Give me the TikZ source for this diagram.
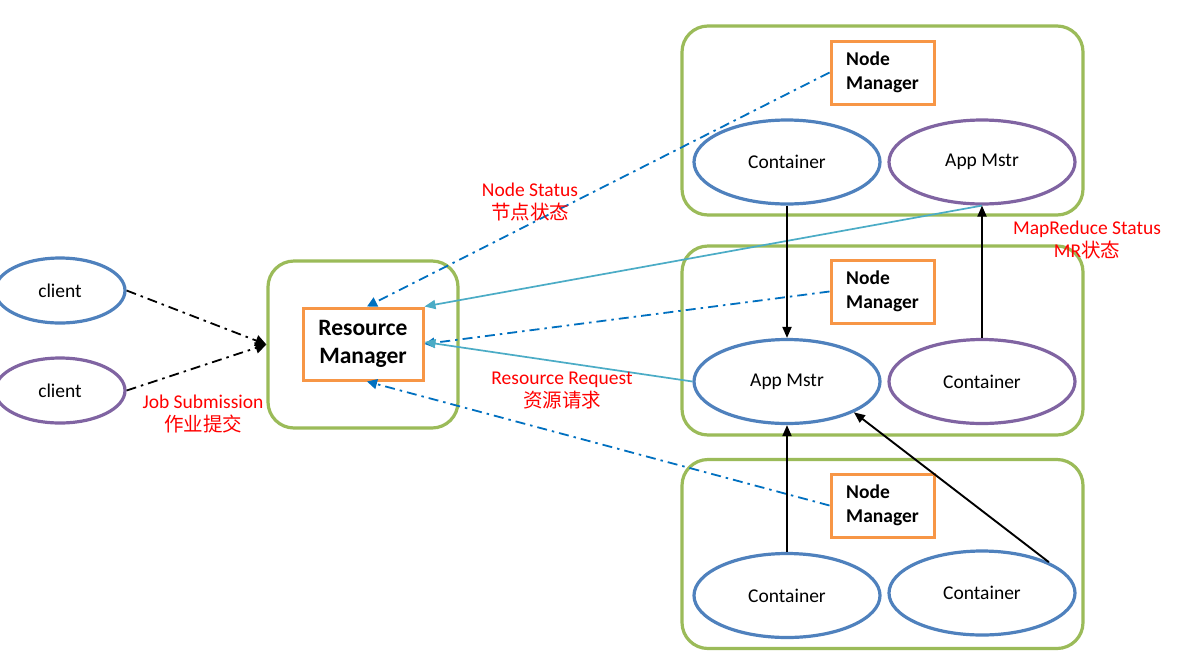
\documentclass[tikz,border=0pt]{standalone}
\usepackage{fontspec}
\setmainfont{Carlito}
\newfontfamily\cjk{Noto Sans CJK SC}
\usetikzlibrary{shapes.geometric,arrows.meta}
\definecolor{ellblue}{HTML}{4F81BD}
\definecolor{ellpurple}{HTML}{8064A2}
\definecolor{boxgreen}{HTML}{9BBB59}
\definecolor{boxorange}{HTML}{F79646}
\definecolor{dashblue}{HTML}{0070C0}
\definecolor{reqcyan}{HTML}{4BACC6}
\definecolor{lblred}{HTML}{FF0000}
\tikzset{
  pod/.style={draw=boxgreen,line width=3.2pt,rounded corners=26pt,minimum width=401pt,minimum height=189pt},
  rmbox/.style={draw=boxgreen,line width=3.2pt,rounded corners=26pt,minimum width=190pt,minimum height=167pt},
  mgr/.style={draw=boxorange,line width=3pt,fill=white,align=left,inner sep=0pt,font=\fontsize{19.5}{24}\selectfont\bfseries},
  oval/.style={ellipse,line width=3.2pt,fill=white,font=\fontsize{19.5}{22}\selectfont},
  blueoval/.style={oval,draw=ellblue},
  purpleoval/.style={oval,draw=ellpurple},
  cont/.style={minimum width=186pt,minimum height=84pt},
  cli/.style={minimum width=130pt,minimum height=65pt},
  dashdot/.style={line width=1.8pt,dash pattern=on 10pt off 5pt on 2.5pt off 5pt},
  status/.style={dashdot,draw=dashblue,-{Triangle[length=10pt,width=10pt]}},
  submit/.style={dashdot,draw=black,-{Triangle[length=11pt,width=11pt]}},
  request/.style={line width=1.7pt,draw=reqcyan,-{Triangle[length=11pt,width=9pt]}},
  flow/.style={line width=1.9pt,draw=black,-{Triangle[length=11pt,width=9pt]}},
  lbl/.style={text=lblred,align=center,inner sep=0pt,font=\fontsize{19.5}{23}\selectfont},
}
\begin{document}
\begin{tikzpicture}[x=1pt,y=-1pt]
\useasboundingbox (0,0) rectangle (1177,654);
\fill[white] (0,0) rectangle (1177,654);

% node groups
\node[pod] (pod1) at (882.5,120.5) {};
\node[pod] (pod2) at (882.5,340.5) {};
\node[pod] (pod3) at (882.5,554) {};

% resource manager
\node[rmbox] (rmouter) at (363,344.5) {};
\node[mgr,minimum width=120pt,minimum height=72pt,align=center,font=\fontsize{23.5}{28}\selectfont\bfseries] (rm) at (363,344) {Resource\\Manager};

% clients
\node[blueoval,cli] (cl1) at (60,290.5) {client};
\node[purpleoval,cli] (cl2) at (60,390.5) {client};

% node managers
\node[mgr,minimum width=103pt,minimum height=63pt] (nm1) at (882.5,72.5) {Node\\Manager};
\node[mgr,minimum width=103pt,minimum height=63pt] (nm2) at (882.5,291.5) {Node\\Manager};
\node[mgr,minimum width=103pt,minimum height=63pt] (nm3) at (882.5,505.5) {Node\\Manager};

% containers and application masters
\node[blueoval,cont] (c1) at (787,162) {Container};
\node[purpleoval,cont] (am1) at (982,162) {App Mstr};
\node[blueoval,cont] (am2) at (787,381.5) {App Mstr};
\node[purpleoval,cont] (c2) at (982,381.5) {Container};
\node[blueoval,cont] (c3) at (787,595.5) {Container};
\node[blueoval,cont] (c4) at (982,593) {Container};

% job submission
\draw[submit] (cl1.east) -- (rmouter.west);
\draw[submit] (cl2.east) -- (rmouter.west);

% node status heartbeats
\draw[status] (nm1.west) -- ([xshift=4pt]rm.north);
\draw[status] (nm2.west) -- (rm.east);
\draw[status] (nm3.west) -- ([xshift=4pt]rm.south);

% resource requests and status
\draw[request] (am1.south) -- (rm.north east);
\draw[request] (am2.west) -- ([yshift=2pt]rm.east);

% container flows
\draw[flow] (c1.south) -- (am2.north);
\draw[flow] (c2.north) -- (am1.south);
\draw[flow] (c3.north) -- (am2.south);
\draw[flow] (c4.north east) -- (am2.south east);

% labels
\node[lbl] (lns) at (530,202) {Node Status\\{\cjk 节点状态}};
\node[lbl] (ljs) at (203,414) {Job Submission\\{\cjk 作业提交}};
\node[lbl] (lrr) at (562,391) {Resource Request\\{\cjk 资源请求}};
\node[lbl] (lmr) at (1087,240) {MapReduce Status\\MR{\cjk 状态}};
\end{tikzpicture}
\end{document}
